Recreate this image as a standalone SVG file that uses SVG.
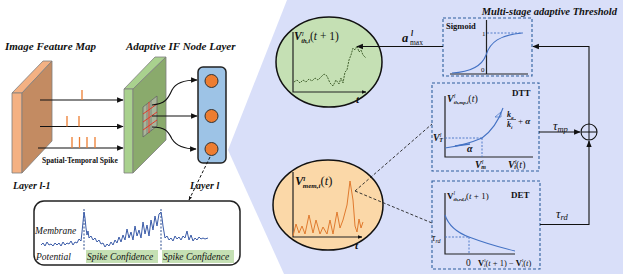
<svg xmlns="http://www.w3.org/2000/svg" width="623" height="274" viewBox="0 0 623 274">
<defs>
<marker id="ah" viewBox="0 0 10 10" refX="9" refY="5" markerWidth="6" markerHeight="6" orient="auto-start-reverse"><path d="M0,1 L10,5 L0,9 z" fill="#111"/></marker>
<marker id="ahs" viewBox="0 0 10 10" refX="9" refY="5" markerWidth="4" markerHeight="4" orient="auto"><path d="M0,1 L10,5 L0,9 z" fill="#111"/></marker>
<style>
.t{font-family:"Liberation Serif","Times New Roman",serif;fill:#111}
.bi{font-weight:bold;font-style:italic}
.b{font-weight:bold}
.i{font-style:italic}
.ax{stroke:#222;stroke-width:1.2;fill:none}
.dash{fill:none;stroke:#2e5f9e;stroke-width:1.1;stroke-dasharray:3 2}
.dl{fill:none;stroke:#4472c4;stroke-width:0.9;stroke-dasharray:2 1.5}
.bc{fill:none;stroke:#4472c4;stroke-width:1.1}
.ln{fill:none;stroke:#111;stroke-width:1.1}
.spk{stroke:#ed7d31;stroke-width:1.3}
</style>
</defs>
<rect width="623" height="274" fill="#fff"/>
<polygon points="287,0 623,0 623,274 284,274 228,150" fill="#d9dff9"/>

<g id="title-left">
<text class="t bi" x="5" y="50" font-size="11">Image Feature Map</text>
<text class="t bi" x="126" y="50" font-size="11">Adaptive IF Node Layer</text>
</g>

<g id="feature-map">
<polygon points="12,93 43,61 52,61 22,93" fill="#f4b183" stroke="#7f7f7f" stroke-width="0.8"/>
<polygon points="12,93 22,93 22,173 12,173" fill="#f4b183" stroke="#7f7f7f" stroke-width="0.8"/>
<polygon points="22,93 52,61 52,141 22,173" fill="#c38b62" stroke="#7f7f7f" stroke-width="0.8"/>
<text class="t bi" x="13" y="189" font-size="10">Layer l-1</text>
</g>

<g id="adaptive-layer">
<polygon points="124,89 155,57 166,57 133,89" fill="#a9d18e" stroke="#7f7f7f" stroke-width="0.8"/>
<polygon points="124,89 133,89 133,173 124,173" fill="#a9d18e" stroke="#7f7f7f" stroke-width="0.8"/>
<polygon points="133,89 166,57 166,140 133,173" fill="#8aaa6c" stroke="#7f7f7f" stroke-width="0.8"/>
<polygon points="143,107 157,96 157,126 143,137" fill="#a9b59a" stroke="#666" stroke-width="0.8"/>
<line x1="147" y1="104" x2="147" y2="134" stroke="#666" stroke-width="0.6"/>
<line x1="151" y1="101" x2="151" y2="131" stroke="#666" stroke-width="0.6"/>
<g stroke="#e03a2a" stroke-width="1">
<line x1="143" y1="114" x2="157" y2="104"/>
<line x1="143" y1="122" x2="157" y2="112"/>
<line x1="143" y1="130" x2="157" y2="120"/>
<line x1="149" y1="102" x2="149" y2="133"/>
</g>
</g>

<g id="node-box">
<rect x="198" y="67" width="28" height="96" rx="5" fill="#9dc3e6" stroke="#222" stroke-width="1.5"/>
<circle cx="211.5" cy="81" r="6.5" fill="#ed7d31" stroke="#333" stroke-width="1"/>
<circle cx="211.5" cy="116" r="6.5" fill="#ed7d31" stroke="#333" stroke-width="1"/>
<circle cx="211.5" cy="149" r="6.5" fill="#ed7d31" stroke="#333" stroke-width="1"/>
<text class="t bi" x="190" y="189" font-size="10">Layer l</text>
</g>

<g id="membrane-box">
<rect x="34" y="201" width="206" height="64" rx="10" fill="#fff" stroke="#222" stroke-width="1.5"/>
<rect x="86" y="250" width="72" height="13" fill="#c5e0b4"/>
<rect x="162" y="250" width="72" height="13" fill="#c5e0b4"/>
<line x1="84" y1="209" x2="84" y2="251" stroke="#2f4f8f" stroke-width="1" stroke-dasharray="2 1.5"/>
<line x1="161" y1="209" x2="161" y2="251" stroke="#2f4f8f" stroke-width="1" stroke-dasharray="2 1.5"/>
<polyline fill="none" stroke="#3a5ba8" stroke-width="1" stroke-linejoin="round" points="41,245 43,243 45,246 47,242 49,245 51,244 53,246 55,243 57,245 59,243 61,246 63,242 65,245 67,243 69,244 71,241 73,245 75,242 77,243 79,239 81,241 82,232 83,222 84,212 85,218 86,228 87,235 88,231 89,238 91,236 93,240 95,238 97,242 99,240 101,244 103,243 105,247 107,244 109,246 111,242 113,245 115,240 117,243 119,237 121,242 123,235 125,240 127,229 129,238 131,232 133,240 135,226 137,236 139,230 141,238 143,222 145,234 147,225 149,236 151,220 153,230 155,216 157,226 159,214 161,212 162,218 163,226 164,232 165,238 167,236 169,240 171,238 173,241 175,236 177,239 179,237 181,240 183,236 185,238 187,231 189,240 191,235 193,241 195,238 197,240 199,237 201,239 203,238 205,239 208,238"/>
<text class="t i" x="35" y="234" font-size="9.5" fill="#222">Membrane</text>
<text class="t i" x="36" y="260" font-size="9.5" fill="#222">Potential</text>
<text class="t i" x="87" y="260" font-size="9.5" fill="#222">Spike Confidence</text>
<text class="t i" x="163" y="260" font-size="9.5" fill="#222">Spike Confidence</text>
</g>

<g id="green-circle">
<ellipse cx="329" cy="62" rx="53" ry="45" fill="#c5e0b4" stroke="#111" stroke-width="1.5"/>
<path class="ax" d="M293,32 L293,92 L366,92" marker-end="url(#ahs)"/>
<polyline fill="none" stroke="#375623" stroke-width="0.9" stroke-dasharray="2 1" points="294,82 297,80 300,83 303,80 306,82 309,79 312,81 315,78 318,80 321,77 324,74 327,76 330,83 333,86 336,80 339,84 341,78 343,83 345,72 347,70 349,60 351,55 353,48 355,50 357,46 359,52 361,50 363,55 366,58"/>
<text class="t" x="294" y="40" font-size="11.5"><tspan class="bi">V</tspan><tspan font-size="7" class="i" dy="-4">l</tspan><tspan font-size="6.5" class="bi" dx="-2.5" dy="6.5">th,i</tspan><tspan dy="-2.5">(</tspan><tspan class="i">t</tspan> + 1)</text>
<text class="t bi" x="356" y="103" font-size="11">t</text>
</g>

<g id="orange-circle">
<ellipse cx="328" cy="205" rx="55" ry="45" fill="#fbd8a8" stroke="#111" stroke-width="1.5"/>
<path class="ax" d="M293,172 L293,237 L362,237" marker-end="url(#ahs)"/>
<polyline fill="none" stroke="#e07a2e" stroke-width="1" stroke-linejoin="round" points="293,236 296,224 299,233 302,226 305,234 309,215 313,233 316,220 320,234 323,227 327,234 330,220 333,234 337,212 340,228 343,220 347,205 350,181 353,200 355,226 357,232 359,219 361,228 363,222"/>
<text class="t" x="295" y="185" font-size="12.5"><tspan class="bi">V</tspan><tspan font-size="7" class="bi" dy="-4.5">l</tspan><tspan font-size="7" class="bi" dx="-2.5" dy="7">mem,i</tspan><tspan dy="-2.5">(</tspan><tspan class="i">t</tspan>)</text>
<text class="t bi" x="355" y="249" font-size="11">t</text>
</g>

<g id="sigmoid">
<rect x="443" y="18" width="89" height="58" class="dash"/>
<text class="t b" x="446" y="29" font-size="8.5">Sigmoid</text>
<line x1="486.5" y1="20" x2="486.5" y2="74" class="ax" stroke-width="0.9"/>
<line x1="450" y1="74" x2="528" y2="74" class="ax" stroke-width="1.2"/>
<line x1="487" y1="33" x2="523" y2="33" class="dl"/>
<text class="t" x="482" y="36" font-size="7">1</text>
<text class="t" x="481" y="72" font-size="7">0</text>
<path class="bc" d="M452,73 C470,72 482,66 486,55 C490,42 500,35 522,33"/>
</g>

<g id="dtt">
<rect x="432" y="83" width="107" height="88" class="dash"/>
<text class="t b" x="512" y="96" font-size="9">DTT</text>
<path class="ax" d="M445,96 L445,157 L533,157" stroke-width="1"/>
<line x1="445" y1="138" x2="482" y2="138" class="dl"/>
<line x1="482" y1="138" x2="482" y2="157" class="dl"/>
<path class="bc" d="M445,148 Q466,145 482,138 Q496,128 503,108"/>
<path d="M455,146 L470,144" stroke="#4472c4" stroke-width="1.6"/>
<path d="M495,117 L501,112 L501,117 z" fill="none" stroke="#4472c4" stroke-width="0.7"/>
<text class="t" x="447" y="102" font-size="10"><tspan class="bi">V</tspan><tspan font-size="6" class="i" dy="-4">l</tspan><tspan font-size="5" class="bi" dx="-1.5" dy="5.5">th,mp,i</tspan><tspan dy="-1.5">(</tspan><tspan class="i">t</tspan>)</text>
<text class="t" x="433" y="141" font-size="10"><tspan class="bi">V</tspan><tspan font-size="6" class="i" dy="-4">l</tspan><tspan font-size="6" class="bi" dx="-2" dy="5">T</tspan></text>
<text class="t bi" x="467" y="152" font-size="10">α</text>
<text class="t" x="475" y="168" font-size="10"><tspan class="bi">V</tspan><tspan font-size="6" class="i" dy="-4">l</tspan><tspan font-size="6" class="bi" dx="-2" dy="5">m</tspan></text>
<text class="t" x="508" y="168" font-size="10"><tspan class="bi">V</tspan><tspan font-size="6" class="i" dy="-4">l</tspan><tspan font-size="6" class="bi" dx="-2" dy="5">i</tspan><tspan dy="-1">(</tspan><tspan class="i">t</tspan>)</text>
<text class="t bi" x="507" y="117" font-size="8">k<tspan font-size="5" dy="1.5">a</tspan></text>
<line x1="507" y1="119.5" x2="516" y2="119.5" stroke="#111" stroke-width="0.6"/>
<text class="t bi" x="507" y="127" font-size="8">k<tspan font-size="5" dy="1.5">i</tspan></text>
<text class="t" x="518" y="124" font-size="9">+ <tspan class="bi">α</tspan></text>
</g>

<g id="det">
<rect x="432" y="181" width="108" height="88" class="dash"/>
<text class="t b" x="511" y="198" font-size="9">DET</text>
<path class="ax" d="M445,193 L445,254 L515,254" stroke-width="1.3" stroke="#555"/>
<line x1="445" y1="237" x2="469" y2="237" class="dl"/>
<line x1="469" y1="237" x2="469" y2="254" class="dl"/>
<path class="bc" d="M445,215 Q450,230 469,237 Q490,245 515,251"/>
<text class="t" x="447" y="199" font-size="9"><tspan class="b">V</tspan><tspan font-size="5.5" class="i" dy="-4">l</tspan><tspan font-size="5" class="bi" dx="-1.5" dy="5.5">th,rd,i</tspan><tspan dy="-1.5">(</tspan><tspan class="i">t</tspan> + 1)</text>
<text class="t i" x="432" y="241" font-size="9.5">τ<tspan font-size="6" dy="1.5">rd</tspan></text>
<text class="t" x="466" y="266" font-size="9.5">0</text>
<text class="t" x="478" y="266" font-size="8.5"><tspan class="b">V</tspan><tspan font-size="5" dy="-4">l</tspan><tspan font-size="5" dx="-1.5" dy="5">i</tspan><tspan dy="-1">(</tspan><tspan class="i">t</tspan> + 1) − <tspan class="b">V</tspan><tspan font-size="5" dy="-4">l</tspan><tspan font-size="5" dx="-1.5" dy="5">i</tspan><tspan dy="-1">(</tspan><tspan class="i">t</tspan>)</text>
</g>

<g id="sum">
<circle cx="589" cy="132" r="8" fill="none" stroke="#111" stroke-width="1.1"/>
<line x1="581" y1="132" x2="597" y2="132" stroke="#111" stroke-width="1"/>
<line x1="589" y1="124" x2="589" y2="140" stroke="#111" stroke-width="1"/>
</g>

<g id="title-right">
<text class="t bi" x="617" y="15" font-size="10.5" text-anchor="end">Multi-stage adaptive Threshold</text>
</g>

<g id="connectors">
<line x1="40" y1="100" x2="123" y2="100" class="ln" marker-end="url(#ah)"/>
<line x1="40" y1="126.5" x2="123" y2="126.5" class="ln" marker-end="url(#ah)"/>
<line x1="38" y1="148" x2="123" y2="148" class="ln" marker-end="url(#ah)"/>
<line x1="82" y1="90" x2="82" y2="100" class="spk"/>
<line x1="67" y1="116" x2="67" y2="126.5" class="spk"/>
<line x1="79" y1="116" x2="79" y2="126.5" class="spk"/>
<line x1="72" y1="137" x2="72" y2="148" class="spk"/>
<line x1="79.5" y1="137" x2="79.5" y2="148" class="spk"/>
<line x1="87" y1="137" x2="87" y2="148" class="spk"/>
<line x1="95" y1="137" x2="95" y2="148" class="spk"/>
<text class="t b" x="42" y="163" font-size="7.5">Spatial-Temporal Spike</text>
<path d="M152,105 C165,104 168,99 172,90 C176,82 185,80 197,80" class="ln" marker-end="url(#ah)"/>
<line x1="152" y1="116" x2="197" y2="116" class="ln" marker-end="url(#ah)"/>
<path d="M152,127 C165,127 168,131 172,139 C177,147 186,149 196,149" class="ln" marker-end="url(#ah)"/>
<line x1="210" y1="157" x2="189" y2="200" stroke="#111" stroke-width="1" stroke-dasharray="3 2" marker-end="url(#ahs)"/>
<line x1="443" y1="46.5" x2="357" y2="46.5" class="ln" marker-end="url(#ah)"/>
<text class="t bi" x="402" y="42" font-size="12.5">a</text>
<text class="t bi" x="411" y="36" font-size="7.5">l</text>
<text class="t" x="410" y="45" font-size="7.5">max</text>
<path d="M589,124 L589,46.5 L533,46.5" class="ln" marker-end="url(#ah)"/>
<line x1="539" y1="132" x2="580" y2="132" class="ln" marker-end="url(#ah)"/>
<text class="t i" x="553" y="130" font-size="12.5">τ<tspan font-size="8.5" dy="2">mp</tspan></text>
<path d="M540,224.5 L589,224.5 L589,141" class="ln" marker-end="url(#ah)"/>
<text class="t i" x="556" y="218" font-size="12.5">τ<tspan font-size="8.5" dy="2">rd</tspan></text>
<line x1="355" y1="191" x2="432" y2="124" stroke="#222" stroke-width="0.9" stroke-dasharray="3 2"/>
<line x1="355" y1="191" x2="432" y2="223" stroke="#222" stroke-width="0.9" stroke-dasharray="3 2"/>
</g>
</svg>
